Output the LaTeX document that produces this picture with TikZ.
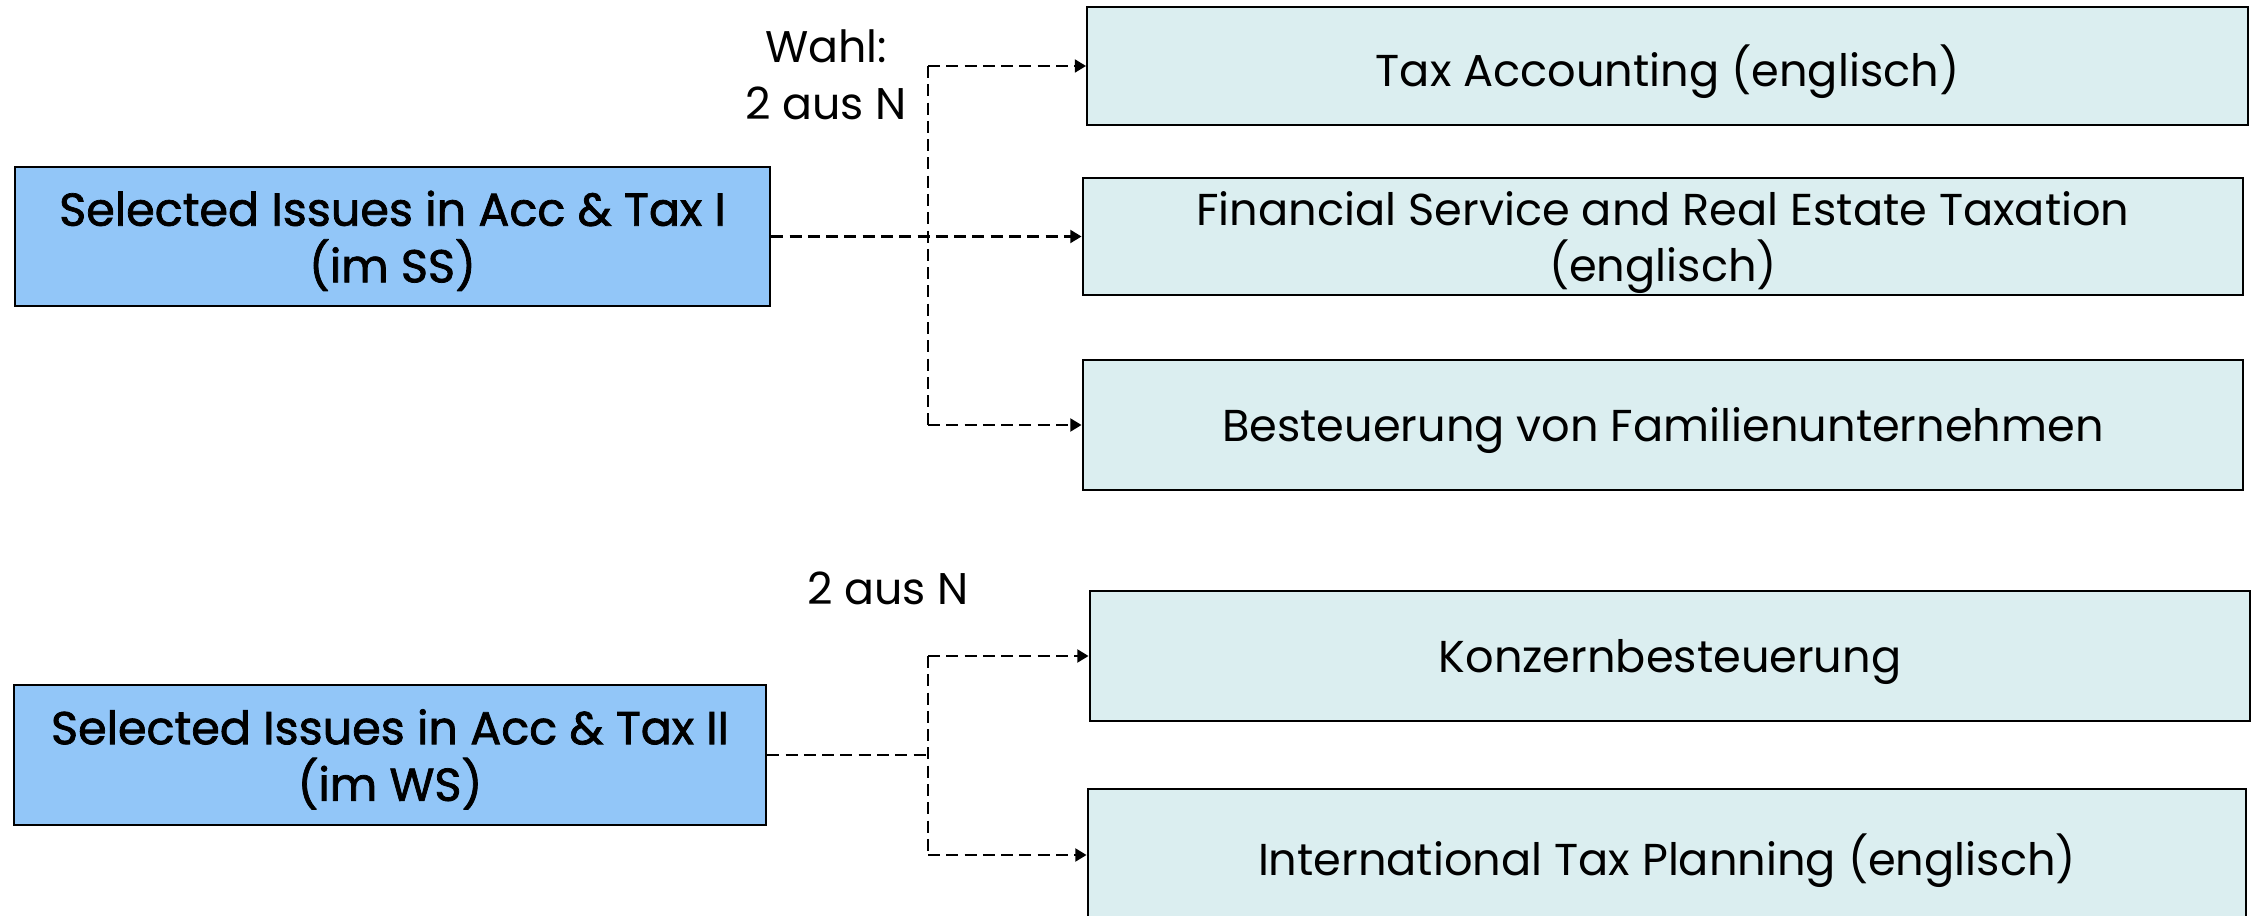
\documentclass[tikz,border=0pt]{standalone}
\usepackage{fontspec}
\setmainfont{Poppins}
\newfontfamily\medfont[FakeBold=1.6]{Poppins}
\usepackage{xcolor}
\usepackage{tikz}
\usetikzlibrary{positioning,arrows.meta}

\definecolor{leftblue}{HTML}{92C6F8}
\definecolor{rightcyan}{HTML}{DBEEF0}

\tikzset{
  course/.style={draw,line width=0.6pt,fill=rightcyan,minimum width=11.6cm,align=center,
    text depth=0pt,font=\fontsize{12.7}{16.2}\selectfont},
  module/.style={draw,line width=0.6pt,fill=leftblue,minimum width=7.55cm,minimum height=1.39cm,
    align=center,text depth=0pt,font=\fontsize{13.1}{16.1}\selectfont\medfont},
  choice/.style={align=center,font=\fontsize{12.6}{16.2}\selectfont},
  dline/.style={line width=0.8pt,dash pattern=on 3.4pt off 1.8pt},
  link/.style={dline,-{Triangle[length=3.2pt,width=3.6pt]}}
}

\begin{document}
\begin{tikzpicture}[x=0.01cm,y=-0.01cm]
\useasboundingbox (0,0) rectangle (2252,916);
\begin{scope}
    \node[module] (s1) at (392.5,236.5) {Selected Issues in Acc \& Tax I\\(im SS)};
    \node[module,minimum width=7.52cm,minimum height=1.40cm] (s2) at (390,755) {Selected Issues in Acc \& Tax II\\(im WS)};
    \node[course,minimum height=1.18cm] (a) at (1667.5,66) {Tax Accounting (englisch)};
    \node[course,minimum height=1.17cm] (b) at (1663,236.5) {Financial Service and Real Estate Taxation\\(englisch)};
    \node[course,minimum height=1.30cm] (c) at (1663,425) {Besteuerung von Familienunternehmen};
    \node[course,minimum height=1.30cm] (d) at (1670,656) {Konzernbesteuerung};
    \node[course,minimum width=11.58cm,minimum height=1.32cm] (e) at (1667,855) {International Tax Planning (englisch)};
\end{scope}
\node[choice] (w1) at (826,75) {Wahl:\\2 aus N};
\node[choice] (w2) at (888,588) {2 aus N};
\coordinate (j1) at (928,236.5);
\coordinate (j2) at (928,755);
% first block
\draw[link] (s1) -- (b);
\draw[dline] (j1 |- a.west) -- (j1 |- c.west);
\draw[link] (j1 |- a.west) -- (a.west);
\draw[link] (j1 |- c.west) -- (c.west);
% second block
\draw[dline] (s2.east) -- (j2);
\draw[dline] (j2 |- d.west) -- (j2 |- e.west);
\draw[link] (j2 |- d.west) -- (d.west);
\draw[link] (j2 |- e.west) -- (e.west);
\end{tikzpicture}
\end{document}
